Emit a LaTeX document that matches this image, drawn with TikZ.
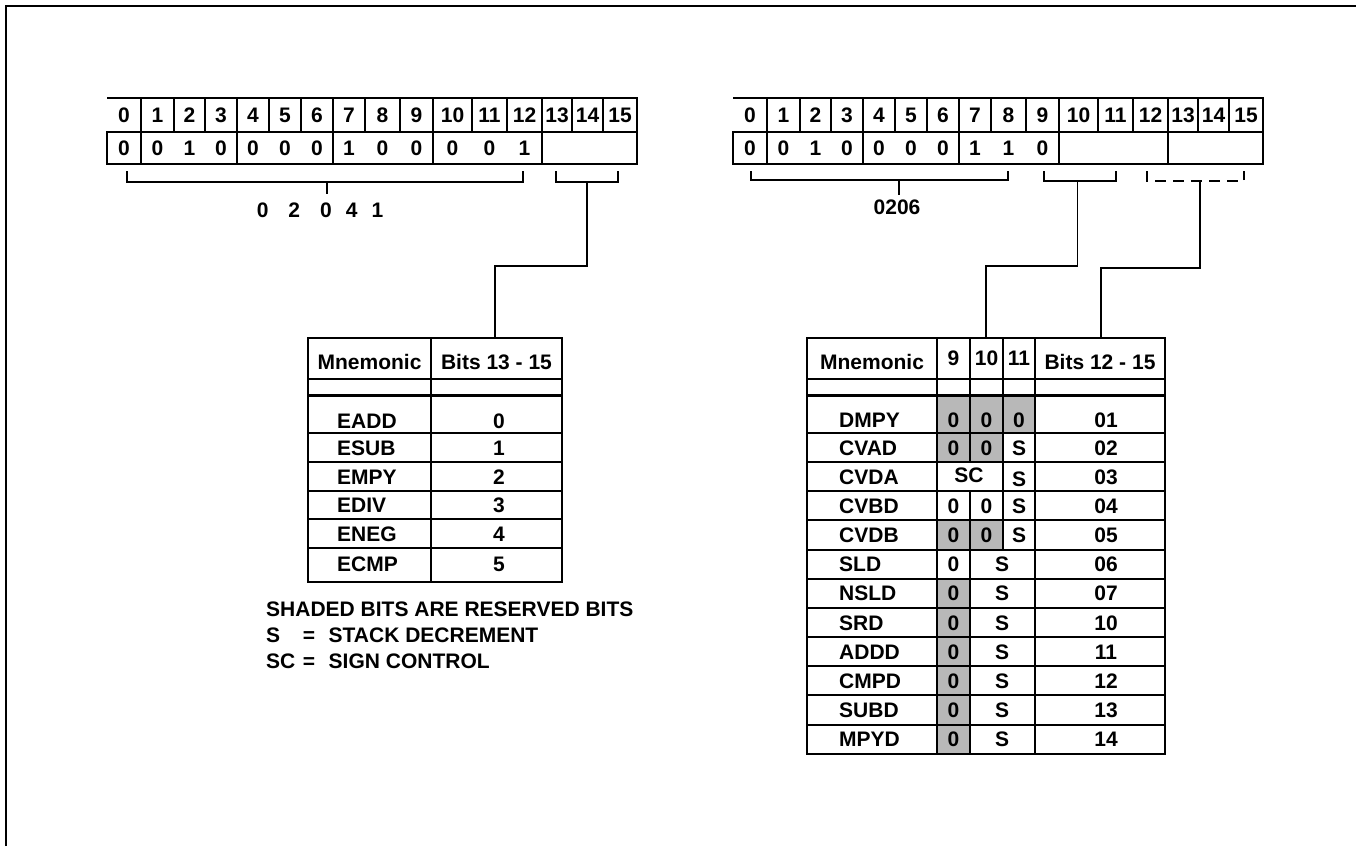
\documentclass[tikz,border=0pt]{standalone}
\usepackage{fontspec}
\setmainfont{Liberation Sans}
\begin{document}
\begin{tikzpicture}[x=1pt,y=-1pt,
  txt/.style={font=\fontsize{21}{24}\selectfont\bfseries, inner sep=0pt, text height=15pt, text depth=0pt},
  reg/.style={line width=2pt},
  tbl/.style={line width=2pt},
  tblthick/.style={line width=3pt},
  brk/.style={line width=1.5pt},
  conn/.style={line width=1.5pt},
  shadecell/.style={fill=black!28}]
\useasboundingbox (0,0) rectangle (1356,846);
\draw[line width=2pt] (6,846) -- (6,6) -- (1356,6);

% ---------- registers ----------
\foreach \p/\s in {L/0,R/626}{
\begin{scope}[xshift=\s pt]
 \draw[reg] (107,98) -- (637,98) -- (637,164) -- (107,164) -- (107,132) -- (637,132);
 \foreach \x in {141,174,205,237,269,301,333,365,400,433,472,507,542,572,603}
   \draw[reg] (\x,98) -- (\x,132);
 \foreach \x in {141,237,333,433,542}
   \draw[reg] (\x,132) -- (\x,164);
 \foreach \i/\c in {0/124,1/157.5,2/189.5,3/221,4/253,5/285,6/317,7/349,8/382.5,9/416.5,10/452.5,11/489.5,12/524.5,13/557,14/587.5,15/620}
   \node[txt] (\p-h\i) at (\c,115) {\i};
\end{scope}}

\foreach \i/\c/\v in {0/124/0,1/157.5/0,2/189.5/1,3/221/0,4/253/0,5/285/0,6/317/0,7/349/1,8/382.5/0,9/416.5/0,10/452.5/0,11/489.5/0,12/524.5/1}
  \node[txt] (L-v\i) at (\c,148) {\v};
\foreach \i/\c/\v in {0/750/0,1/783.5/0,2/815.5/1,3/847/0,4/879/0,5/911/0,6/943/0,7/975/1,8/1008.5/1,9/1042.5/0}
  \node[txt] (R-v\i) at (\c,148) {\v};

% ---------- brackets ----------
\draw[brk] (127,171) -- (127,182) -- (523,182) -- (523,171);
\coordinate (Lb1) at (327,182);
\coordinate (Lb1e) at (327,194);
\draw[brk] (Lb1) -- (Lb1e);
\node[txt] (Lcode) at (320,210) {0\hspace{20pt}2\hspace{20pt}0\hspace{14pt}4\hspace{14pt}1};

\draw[brk] (556,171) -- (556,182) -- (618,182) -- (618,171);
\coordinate (Lb2) at (587,182);

\draw[brk] (751,171) -- (751,180) -- (1008,180) -- (1008,171);
\coordinate (Rb1) at (899,180);
\coordinate (Rb1e) at (899,195);
\draw[brk] (Rb1) -- (Rb1e);
\node[txt] (Rcode) at (897,207) {0206};

\draw[brk] (1044,171) -- (1044,181) -- (1116,181) -- (1116,171);
\coordinate (Rb2) at (1077.5,181);

\draw[brk,dash pattern=on 11pt off 7pt] (1147,171) -- (1147,181) -- (1244,181) -- (1244,171);
\coordinate (Rb3) at (1200,181);

% ---------- connectors ----------
\coordinate (Lk1) at (587,266);
\coordinate (LT) at (495,338);
\draw[conn] (Lb2) -- (Lk1) -| (LT);
\coordinate (Rk1) at (1077.5,266);
\coordinate (RT1) at (986,338);
\draw[conn] (Rb2) -- (Rk1) -| (RT1);
\coordinate (Rk2) at (1200,268);
\coordinate (RT2) at (1101,338);
\draw[conn] (Rb3) -- (Rk2) -| (RT2);

% ---------- left table ----------
\draw[tbl] (308,338) rectangle (562,582);
\draw[tbl] (431,338) -- (431,582);
\foreach \y in {379,433,462,490.5,519,547.5} \draw[tbl] (308,\y) -- (562,\y);
\draw[tblthick] (308,395) -- (562,395);
\node[txt] (LHm) at (369.5,362) {Mnemonic};
\node[txt] (LHb) at (496.5,362) {Bits 13 - 15};
\foreach \m/\y/\c [count=\n] in {EADD/421/0,ESUB/448/1,EMPY/476.5/2,EDIV/505/3,ENEG/533.5/4,ECMP/564/5}{
  \node[txt,anchor=west] (LM\n) at (337,\y) {\m};
  \node[txt] (LC\n) at (499,\y) {\c};
}

% ---------- right table ----------
\fill[shadecell] (937,395) rectangle (1035,433);
\fill[shadecell] (937,433) rectangle (1003,462.15);
\fill[shadecell] (937,520.45) rectangle (1003,549.6);
\fill[shadecell] (937,578.75) rectangle (970,753.65);
\draw[tbl] (807,338) rectangle (1165,753.65);
\foreach \x in {937,1035} \draw[tbl] (\x,338) -- (\x,753.65);
\draw[tbl] (970,338) -- (970,462.15);
\draw[tbl] (970,491.3) -- (970,753.65);
\draw[tbl] (1003,338) -- (1003,549.6);
\draw[tbl] (807,379) -- (1165,379);
\draw[tblthick] (807,395) -- (1165,395);
\foreach \k in {0,...,10} \draw[tbl] (807,{433+29.15*\k}) -- (1165,{433+29.15*\k});

\node[txt] (RHm) at (872,362) {Mnemonic};
\node[txt] (RH9) at (953.5,358) {9};
\node[txt] (RH10) at (986.5,358) {10};
\node[txt] (RH11) at (1019,358) {11};
\node[txt] (RHb) at (1100,362) {Bits 12 - 15};

\foreach \m/\y/\c [count=\n] in {DMPY/420/01,CVAD/447.6/02,CVDA/476.7/03,CVBD/505.9/04,CVDB/535/05,SLD/564.2/06,NSLD/593.3/07,SRD/622.5/10,ADDD/651.6/11,CMPD/680.8/12,SUBD/709.9/13,MPYD/739.1/14}{
  \node[txt,anchor=west] (RM\n) at (839,\y) {\m};
  \node[txt] (RC\n) at (1106,\y) {\c};
}
% bit entries
\foreach \y [count=\n] in {420,447.6}{
  \node[txt] (Ra\n) at (953.5,\y) {0};
  \node[txt] (Rb\n) at (986.5,\y) {0};
}
\node[txt] (Rc1) at (1019,420) {0};
\node[txt] (Rc2) at (1019,447.6) {S};
\node[txt] (Rsc3) at (969,475) {SC};
\node[txt] (Rc3) at (1019,479) {S};
\foreach \y [count=\n from 4] in {505.9,535}{
  \node[txt] (Ra\n) at (953.5,\y) {0};
  \node[txt] (Rb\n) at (986.5,\y) {0};
  \node[txt] (Rc\n) at (1019,\y) {S};
}
\foreach \y [count=\n from 6] in {564.2,593.3,622.5,651.6,680.8,709.9,739.1}{
  \node[txt] (Ra\n) at (953.5,\y) {0};
  \node[txt] (Rs\n) at (1002,\y) {S};
}

% ---------- legend ----------
\node[txt,anchor=west] (Leg1) at (266,608.5) {SHADED BITS ARE RESERVED BITS};
\node[txt,anchor=west] (Leg2a) at (266,634.5) {S};
\node[txt] (Leg2b) at (309,634.5) {=};
\node[txt,anchor=west] (Leg2c) at (328.5,634.5) {STACK DECREMENT};
\node[txt,anchor=west] (Leg3a) at (266,661) {SC};
\node[txt] (Leg3b) at (309,661) {=};
\node[txt,anchor=west] (Leg3c) at (328.5,661) {SIGN CONTROL};
\end{tikzpicture}
\end{document}
